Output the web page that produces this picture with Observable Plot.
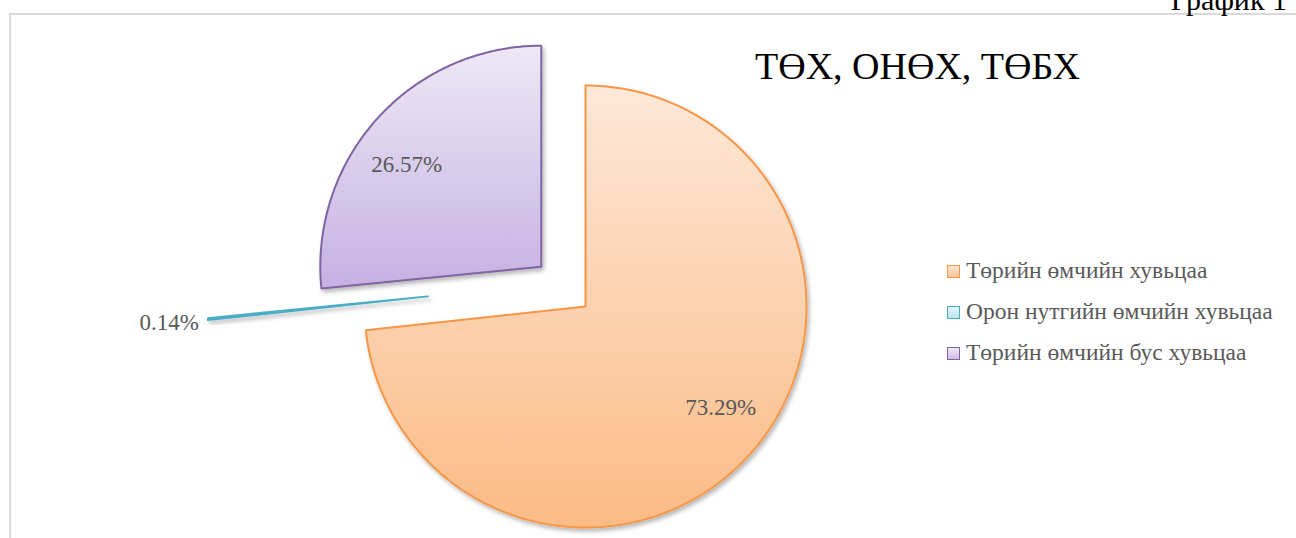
<!DOCTYPE html>
<html><head><meta charset="utf-8">
<script src="https://cdn.jsdelivr.net/npm/d3@7"></script>
<script src="https://cdn.jsdelivr.net/npm/@observablehq/plot@0.6"></script>
<style>
body{margin:0;background:#fff;}
#wrap{position:relative;width:1296px;height:538px;overflow:hidden;font-family:"Times New Roman","Liberation Serif",Tinos,"DejaVu Serif",serif;}
#frame{position:absolute;left:9px;top:13px;right:-5px;bottom:-5px;border-top:2px solid #d9d9d9;border-left:2px solid #d9d9d9;}
#chart{position:absolute;left:0;top:0;}
.txt{position:absolute;white-space:nowrap;line-height:1;}
#title{left:755px;top:47.2px;font-size:38px;color:#000;}
#num{right:9px;top:-15px;font-size:30px;color:#000;}
.lg{font-size:23.5px;color:#595959;left:966px;}
.sw{position:absolute;left:947px;width:13px;height:13px;box-sizing:border-box;border:1px solid;}
</style></head><body>
<div id="wrap"><div id="frame"></div><div id="chart"></div></div>
<script>
// ---- data ----
const categories = ["Төрийн өмчийн хувьцаа", "Орон нутгийн өмчийн хувьцаа", "Төрийн өмчийн бус хувьцаа"];
const values = [73.29, 0.14, 26.57];
const valueLabels = ["73.29%", "0.14%", "26.57%"];
const titleText = "ТӨХ, ОНӨХ, ТӨБХ";
const chartNumber = "График 1";

// ---- styles / layout ----
const serif = '"Times New Roman","Liberation Serif",Tinos,"DejaVu Serif",serif';
const strokes = ["#F79646", "#4BACC6", "#8064A2"];
const gradTop = ["#fee8d8", "#dff2f7", "#eee8f6"];
const gradBottom = ["#fbbb85", "#b3dfeb", "#c5b1e2"];
const swatchTop = ["#fde6d4", "#e3f4f8", "#efe9f7"];
const swatchBottom = ["#fbc597", "#bfe4ee", "#cdbde6"];
const explode = [35.5, 132, 24];
const center = [558.6, 282.3];
const radius = 221;

const wrap = document.getElementById("wrap");
const arcs = d3.pie().sort(null).startAngle(0).value(d => d)(values);
const step = Math.PI / 360;
const slices = arcs.map((a, i) => {
  const mid = (a.startAngle + a.endAngle) / 2;
  const ox = center[0] + explode[i] * Math.sin(mid);
  const oy = center[1] - explode[i] * Math.cos(mid);
  const n = Math.max(2, Math.ceil((a.endAngle - a.startAngle) / step));
  const pts = [{x: ox, y: oy}];
  for (let k = 0; k <= n; k++) {
    const t = a.startAngle + (a.endAngle - a.startAngle) * k / n;
    pts.push({x: ox + radius * Math.sin(t), y: oy - radius * Math.cos(t)});
  }
  pts.push({x: ox, y: oy});
  pts.push(pts[1]);
  return {i, pts, mid, ox, oy, share: a.endAngle - a.startAngle};
});

const labelData = slices.map(s => {
  if (s.share > 0.2) {
    const ang = s.mid - 5 * Math.PI / 180;
    return {x: s.ox + 0.765 * radius * Math.sin(ang), y: s.oy - 0.765 * radius * Math.cos(ang), text: valueLabels[s.i], anchor: "middle"};
  }
  return {x: s.ox + radius * Math.sin(s.mid), y: s.oy - radius * Math.cos(s.mid), text: valueLabels[s.i], anchor: "end"};
});

const marks = [0, 1, 2].map(i => Plot.line(slices[i].pts, {
  x: "x", y: "y", curve: "linear",
  fill: `url(#sg${i})`, stroke: strokes[i], strokeWidth: 2, strokeLinejoin: "miter"
}));
marks.push(Plot.text(labelData.filter(d => d.anchor === "middle"), {x: "x", y: "y", text: "text", textAnchor: "middle", fontSize: 23, fill: "#595959", fontFamily: serif}));
marks.push(Plot.text(labelData.filter(d => d.anchor === "end"), {x: "x", y: "y", text: "text", textAnchor: "end", dx: -9, dy: 4, fontSize: 23, fill: "#595959", fontFamily: serif}));

const svg = Plot.plot({
  width: 1296, height: 538, margin: 0,
  x: {domain: [0, 1296], range: [0, 1296], axis: null},
  y: {domain: [0, 538], range: [0, 538], axis: null},
  style: {background: "transparent", fontFamily: serif},
  marks
});
const ns = "http://www.w3.org/2000/svg";
const defs = document.createElementNS(ns, "defs");
let html = `<filter id="shd" x="-20%" y="-20%" width="140%" height="140%"><feDropShadow dx="2" dy="3" stdDeviation="2.2" flood-color="#000" flood-opacity="0.28"/></filter>`;
for (let i = 0; i < 3; i++) {
  html += `<linearGradient id="sg${i}" x1="0" y1="0" x2="0" y2="1"><stop offset="0" stop-color="${gradTop[i]}"/><stop offset="1" stop-color="${gradBottom[i]}"/></linearGradient>`;
}
defs.innerHTML = html;
svg.insertBefore(defs, svg.firstChild);
svg.querySelectorAll('g[aria-label="line"]').forEach(g => g.setAttribute("filter", "url(#shd)"));
document.getElementById("chart").appendChild(svg);

// title, chart number, legend
const t = document.createElement("div"); t.className = "txt"; t.id = "title"; t.textContent = titleText; wrap.appendChild(t);
const nm = document.createElement("div"); nm.className = "txt"; nm.id = "num"; nm.textContent = chartNumber; wrap.appendChild(nm);
const legendTops = [259.3, 300.3, 341.3];
categories.forEach((c, i) => {
  const sw = document.createElement("div"); sw.className = "sw";
  sw.style.top = (legendTops[i] + 5.4) + "px";
  sw.style.borderColor = strokes[i];
  sw.style.background = `linear-gradient(${swatchTop[i]}, ${swatchBottom[i]})`;
  wrap.appendChild(sw);
  const tx = document.createElement("div"); tx.className = "txt lg";
  tx.style.top = legendTops[i] + "px"; tx.textContent = c;
  wrap.appendChild(tx);
});
</script>
</body></html>
